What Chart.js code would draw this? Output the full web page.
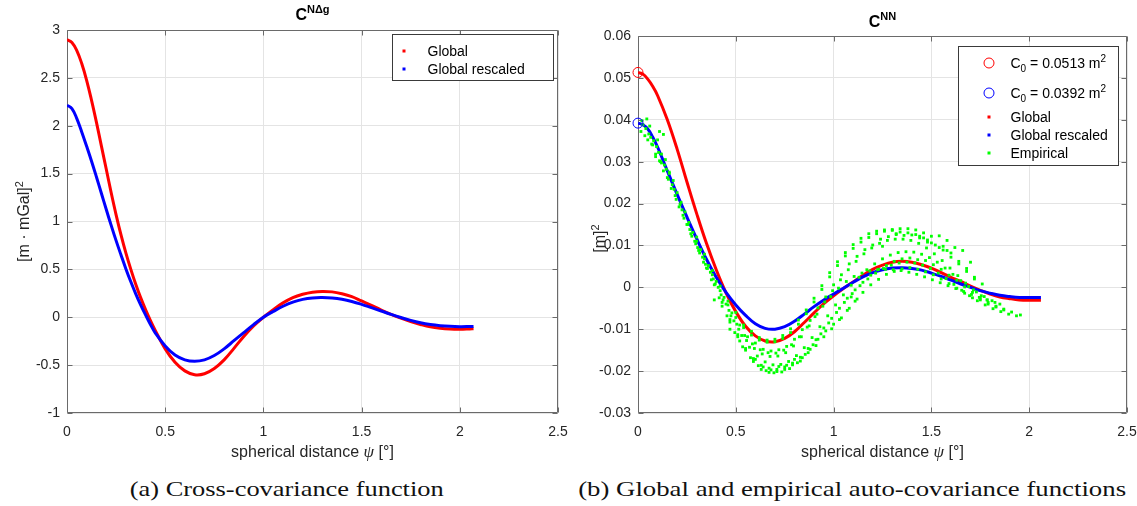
<!DOCTYPE html>
<html>
<head>
<meta charset="utf-8">
<script src="https://cdn.jsdelivr.net/npm/chart.js@4.4.1/dist/chart.umd.min.js"></script>
<style>
  html, body { margin: 0; padding: 0; background: #fff; width: 1137px; height: 506px; overflow: hidden; }
  .panel { position: absolute; top: 0; height: 470px; }
  #panelA { left: 0; width: 570px; }
  #panelB { left: 570px; width: 567px; }
  .caption { position: absolute; top: 476px; font-family: 'Liberation Serif', 'Times New Roman', serif;
             font-size: 22px; line-height: 26px; color: #111; white-space: nowrap; transform-origin: 50% 50%; }
</style>
</head>
<body>
<div class="panel" id="panelA"><canvas id="chartA"></canvas></div>
<div class="panel" id="panelB"><canvas id="chartB"></canvas></div>
<div class="caption" id="captionA">(a) Cross-covariance function</div>
<div class="caption" id="captionB">(b) Global and empirical auto-covariance functions</div>
<script>
// ---- spherical distance samples (degrees) ----
const psiA = [0, 0.025, 0.05, 0.075, 0.1, 0.125, 0.15, 0.175, 0.2, 0.225, 0.25, 0.275, 0.3, 0.325, 0.35, 0.375, 0.4, 0.425,
              0.45, 0.5, 0.55, 0.6, 0.65, 0.7, 0.75, 0.8, 0.85, 0.9, 0.95,
              1.0, 1.05, 1.1, 1.15, 1.2, 1.25, 1.3, 1.35, 1.4, 1.45, 1.5, 1.55, 1.6, 1.65, 1.7, 1.75, 1.8, 1.85, 1.9, 1.95,
              2.0, 2.05, 2.07];
// cross-covariance C^{NΔg}  [m·mGal]^2
const crossGlobal = [2.90, 2.87, 2.785, 2.65, 2.475, 2.265, 2.035, 1.79, 1.545, 1.30, 1.07, 0.86, 0.67, 0.50, 0.345, 0.205, 0.08, -0.035,
                     -0.14, -0.33, -0.47, -0.56, -0.60, -0.59, -0.535, -0.445, -0.325, -0.20, -0.09,
                     0.00, 0.08, 0.15, 0.205, 0.24, 0.262, 0.27, 0.265, 0.245, 0.215, 0.17, 0.125, 0.075, 0.03, -0.01, -0.045, -0.075, -0.10, -0.115, -0.123,
                     -0.125, -0.122, -0.12];
const crossRescaled = [2.215, 2.18, 2.075, 1.935, 1.785, 1.63, 1.465, 1.295, 1.125, 0.96, 0.80, 0.65, 0.505, 0.37, 0.245, 0.13, 0.025, -0.075,
                       -0.165, -0.30, -0.395, -0.445, -0.46, -0.445, -0.40, -0.33, -0.245, -0.16, -0.077,
                       0.00, 0.06, 0.115, 0.158, 0.187, 0.202, 0.205, 0.200, 0.187, 0.165, 0.135, 0.10, 0.065, 0.03, -0.003, -0.033, -0.058, -0.076, -0.088, -0.095,
                       -0.098, -0.097, -0.096];

const psiB = [0, 0.025, 0.05, 0.075, 0.1, 0.15, 0.2, 0.25, 0.3, 0.35, 0.4, 0.45, 0.5, 0.55, 0.6, 0.65, 0.7, 0.75, 0.8, 0.85, 0.9, 0.95,
              1.0, 1.05, 1.1, 1.15, 1.2, 1.25, 1.3, 1.35, 1.4, 1.45, 1.5, 1.55, 1.6, 1.65, 1.7, 1.75, 1.8, 1.85, 1.9, 1.95,
              2.0, 2.05, 2.06];
// auto-covariance C^{NN}  [m]^2
const autoGlobal = [0.0513, 0.0509, 0.0497, 0.0480, 0.0458, 0.0400, 0.0330, 0.0252, 0.0176, 0.0105, 0.0042, -0.0013, -0.0058, -0.0093, -0.0116, -0.0128, -0.0130, -0.0122, -0.0106, -0.0084, -0.0061, -0.0039,
                    -0.0020, -0.0003, 0.0013, 0.0029, 0.0043, 0.0053, 0.0060, 0.0062, 0.0060, 0.0054, 0.0046, 0.0035, 0.0024, 0.0014, 0.0003, -0.0007, -0.0016, -0.0023, -0.0027, -0.0030,
                    -0.0031, -0.0031, -0.0031];
const autoRescaled = [0.0392, 0.0388, 0.0378, 0.0359, 0.0335, 0.0278, 0.0222, 0.0168, 0.0116, 0.0067, 0.0024, -0.0012, -0.0042, -0.0067, -0.0087, -0.0098, -0.0100, -0.0094, -0.0081, -0.0064, -0.0046, -0.0030,
                      -0.0016, -0.0002, 0.0012, 0.0025, 0.0035, 0.0042, 0.0046, 0.0047, 0.0045, 0.0041, 0.0034, 0.0026, 0.0017, 0.0008, 0.0000, -0.0008, -0.0014, -0.0019, -0.0022, -0.0024,
                      -0.0024, -0.0024, -0.0024];
const c0Global = 0.0513;
const c0Rescaled = 0.0392;

// empirical auto-covariance estimates [psi, C]
const empiricalA = [[0.02,0.0398],[0.06,0.0385],[0.10,0.0352],[0.14,0.0305],[0.18,0.0255],[0.22,0.0203],[0.26,0.0155],[0.30,0.0110],[0.34,0.0068],[0.38,0.0030],
  [0.42,-0.0008],[0.46,-0.0042],[0.50,-0.0072],[0.54,-0.0096],[0.58,-0.0114],[0.62,-0.0126],[0.66,-0.0131],[0.70,-0.0130],[0.74,-0.0122],[0.78,-0.0108],
  [0.82,-0.0088],[0.86,-0.0063],[0.90,-0.0035],[0.94,-0.0005],[0.98,0.0025],[1.02,0.0052],[1.06,0.0075],[1.10,0.0093],[1.14,0.0108],[1.18,0.0119],
  [1.22,0.0128],[1.26,0.0134],[1.30,0.0138],[1.34,0.0140],[1.38,0.0140],[1.42,0.0137],[1.46,0.0130],[1.50,0.0122],[1.54,0.0123],[1.58,0.0112],[1.62,0.0095],[1.66,0.0088]];
const empiricalB = [[0.035,0.0362],[0.075,0.0340],[0.115,0.0300],[0.155,0.0258],[0.195,0.0210],[0.235,0.0165],[0.275,0.0122],[0.315,0.0082],[0.355,0.0045],[0.395,0.0008],
  [0.435,-0.0030],[0.475,-0.0068],[0.515,-0.0100],[0.555,-0.0127],[0.595,-0.0146],[0.635,-0.0159],[0.675,-0.0165],[0.715,-0.0164],[0.755,-0.0156],[0.795,-0.0140],
  [0.835,-0.0118],[0.875,-0.0092],[0.915,-0.0064],[0.955,-0.0035],[0.995,-0.0008],[1.035,0.0018],[1.075,0.0042],[1.115,0.0062],[1.155,0.0080],[1.195,0.0094],
  [1.235,0.0105],[1.275,0.0112],[1.315,0.0115],[1.355,0.0115],[1.395,0.0112],[1.435,0.0105],[1.475,0.0094],[1.515,0.0080],[1.555,0.0064],[1.595,0.0046],
  [1.635,0.0028],[1.675,0.0010],[1.715,-0.0006],[1.755,-0.0020],[1.785,-0.0030]];
const empiricalC = [[0.05,0.0352],[0.09,0.0318],[0.13,0.0278],[0.17,0.0236],[0.21,0.0192],[0.25,0.0150],[0.29,0.0110],[0.33,0.0072],[0.37,0.0036],[0.41,0.0000],
  [0.45,-0.0040],[0.49,-0.0080],[0.53,-0.0115],[0.57,-0.0143],[0.61,-0.0164],[0.65,-0.0178],[0.69,-0.0185],[0.73,-0.0184],[0.77,-0.0177],[0.81,-0.0163],
  [0.85,-0.0144],[0.89,-0.0120],[0.93,-0.0094],[0.97,-0.0068],[1.01,-0.0042],[1.05,-0.0018],[1.09,0.0005],[1.13,0.0024],[1.17,0.0042],[1.21,0.0056],
  [1.25,0.0068],[1.29,0.0077],[1.33,0.0083],[1.37,0.0085],[1.41,0.0084],[1.45,0.0079],[1.49,0.0071],[1.53,0.0060],[1.57,0.0046],[1.61,0.0031],
  [1.65,0.0016],[1.69,0.0002],[1.73,-0.0011],[1.77,-0.0022],[1.81,-0.0032],[1.85,-0.0040]];
const empiricalD = [[0.015,0.0372],[0.055,0.0366],[0.095,0.0336],[0.135,0.0292],[0.175,0.0245],[0.215,0.0198],[0.255,0.0150],[0.295,0.0104],[0.335,0.0060],[0.375,0.0018],
  [0.415,-0.0025],[0.455,-0.0068],[0.495,-0.0108],[0.535,-0.0142],[0.575,-0.0168],[0.615,-0.0187],[0.655,-0.0199],[0.695,-0.0204],[0.735,-0.0202],[0.775,-0.0194],
  [0.815,-0.0180],[0.855,-0.0160],[0.895,-0.0137],[0.935,-0.0111],[0.975,-0.0085],[1.015,-0.0060],[1.055,-0.0036],[1.095,-0.0015],[1.135,0.0004],[1.175,0.0020],
  [1.215,0.0034],[1.255,0.0045],[1.295,0.0053],[1.335,0.0058],[1.375,0.0060],[1.415,0.0058],[1.455,0.0053],[1.495,0.0045],[1.535,0.0034],[1.575,0.0021],
  [1.615,0.0007],[1.655,-0.0007],[1.695,-0.0020],[1.735,-0.0032],[1.775,-0.0042],[1.815,-0.0051],[1.855,-0.0058],[1.895,-0.0064],[1.935,-0.0068],[1.955,-0.0066]];
const empiricalE = [[0.025,0.0388],[0.065,0.0358],[0.105,0.0322],[0.145,0.0282],[0.185,0.0234],[0.225,0.0185],[0.265,0.0138],[0.305,0.0095],[0.345,0.0055],[0.385,0.0020],
  [0.425,-0.0018],[0.465,-0.0055],[0.505,-0.0088],[0.545,-0.0115],[0.585,-0.0135],[0.625,-0.0149],[0.665,-0.0156],[0.705,-0.0157],[0.745,-0.0150],[0.785,-0.0137],
  [0.825,-0.0118],[0.865,-0.0095],[0.905,-0.0070],[0.945,-0.0045],[0.985,-0.0022],[1.025,-0.0002],[1.065,0.0014],[1.105,0.0026],[1.145,0.0034],[1.185,0.0039],
  [1.225,0.0042],[1.265,0.0043],[1.305,0.0042],[1.345,0.0040],[1.385,0.0036],[1.425,0.0031],[1.465,0.0025],[1.505,0.0018],[1.545,0.0011],[1.585,0.0004],
  [1.625,-0.0003],[1.665,-0.0010],[1.705,-0.0017],[1.745,-0.0024],[1.785,-0.0030],[1.825,-0.0036]];
const empiricalF = [[0.045,0.0402],[0.11,0.0372],[0.13,0.0365],[0.09,0.0312],[0.12,0.0297],[0.16,0.0275],[0.39,-0.0030],[0.47,-0.0100],[0.52,-0.0128],[0.60,-0.0172],
  [0.64,-0.0190],[0.68,-0.0197],[0.72,-0.0189],[0.76,-0.0186],[0.80,-0.0172],[0.84,-0.0168],[0.88,-0.0148],[0.92,-0.0124],[0.96,-0.0104],[1.00,-0.0088],
  [1.04,-0.0073],[1.08,-0.0050],[1.12,-0.0028],[1.09,-0.0023],[1.25,0.0098],[1.32,0.0128],[1.44,0.0122],[1.48,0.0108],[1.56,0.0098],[1.60,0.0082],
  [1.64,0.0062],[1.68,0.0045],[1.72,0.0020],[1.76,0.0008],[1.70,0.0060]];
const empiricalG = [[0.04,0.0379],[0.08,0.0350],[0.12,0.0318],[0.16,0.0272],[0.20,0.0226],[0.24,0.0180],[0.28,0.0131],[0.32,0.0090],[0.36,0.0052],[0.40,0.0014],
  [0.44,-0.0024],[0.48,-0.0061],[0.52,-0.0090],[0.56,-0.0118],[0.60,-0.0133],[0.64,-0.0148],[0.68,-0.0152],[0.72,-0.0149],[0.76,-0.0141],[0.80,-0.0124],
  [0.84,-0.0101],[0.88,-0.0079],[0.92,-0.0049],[0.96,-0.0023],[1.00,0.0006],[1.04,0.0030],[1.08,0.0056],[1.12,0.0074],[1.16,0.0090],[1.20,0.0101],
  [1.24,0.0115],[1.28,0.0121],[1.32,0.0126],[1.36,0.0124],[1.40,0.0125],[1.44,0.0118],[1.48,0.0113],[1.52,0.0101],[1.56,0.0089],[1.60,0.0072],
  [1.64,0.0056],[1.68,0.0038],[1.72,0.0024]];
const empiricalH = [[0.07,0.0342],[0.11,0.0302],[0.15,0.0262],[0.19,0.0219],[0.23,0.0172],[0.27,0.0128],[0.31,0.0088],[0.35,0.0046],[0.39,0.0006],[0.43,-0.0036],
  [0.47,-0.0077],[0.51,-0.0113],[0.55,-0.0146],[0.59,-0.0170],[0.63,-0.0186],[0.67,-0.0193],[0.71,-0.0196],[0.75,-0.0190],[0.79,-0.0181],[0.83,-0.0167],
  [0.87,-0.0146],[0.91,-0.0125],[0.95,-0.0097],[0.99,-0.0074],[1.03,-0.0050],[1.07,-0.0026],[1.11,-0.0006],[1.15,0.0012],[1.19,0.0029],[1.23,0.0043],
  [1.27,0.0052],[1.31,0.0062],[1.35,0.0068],[1.39,0.0070],[1.43,0.0066],[1.47,0.0064],[1.51,0.0054],[1.55,0.0043],[1.59,0.0029],[1.63,0.0017],
  [1.67,0.0001],[1.71,-0.0012],[1.75,-0.0026],[1.79,-0.0036],[1.83,-0.0045],[1.87,-0.0052],[1.91,-0.0059]];
const empiricalI = [[0.30,0.0120],[0.34,0.0079],[0.38,0.0040],[0.42,0.0003],[0.46,-0.0033],[0.50,-0.0060],[0.54,-0.0090],[0.58,-0.0105],[0.62,-0.0120],[0.66,-0.0126],
  [0.70,-0.0124],[0.74,-0.0115],[0.78,-0.0099],[0.82,-0.0078],[0.86,-0.0054],[0.90,-0.0026],[0.94,0.0004],[0.98,0.0035],[1.02,0.0061],[1.06,0.0083],
  [1.10,0.0102],[1.14,0.0117],[1.18,0.0128],[1.22,0.0134],[1.26,0.0137],[1.30,0.0136],[1.34,0.0132],[1.38,0.0130],[1.42,0.0126],[1.46,0.0118],
  [1.50,0.0106],[1.54,0.0095],[1.58,0.0088]];
const empiricalJ = [[0.43,-0.0045],[0.47,-0.0083],[0.51,-0.0118],[0.55,-0.0150],[0.59,-0.0177],[0.63,-0.0196],[0.67,-0.0203],[0.71,-0.0201],[0.75,-0.0196],[0.79,-0.0185],
  [0.83,-0.0176],[0.87,-0.0156],[0.91,-0.0139],[0.95,-0.0118],[0.99,-0.0099],[1.03,-0.0077],[1.07,-0.0055],[1.11,-0.0033],[1.15,-0.0012],[1.19,0.0006],
  [1.23,0.0019],[1.27,0.0031],[1.31,0.0038],[1.35,0.0044],[1.39,0.0047],[1.43,0.0043],[1.47,0.0037],[1.51,0.0030],[1.55,0.0020],[1.59,0.0009],
  [1.63,-0.0002],[1.67,-0.0014],[1.71,-0.0025],[1.75,-0.0030],[1.79,-0.0040],[1.83,-0.0047],[1.87,-0.0054]];

// ---- axis ticks ----
const xTicks = [0, 0.5, 1, 1.5, 2, 2.5];
const xTickLabels = ['0', '0.5', '1', '1.5', '2', '2.5'];
const yTicksA = [-1, -0.5, 0, 0.5, 1, 1.5, 2, 2.5, 3];
const yTickLabelsA = ['-1', '-0.5', '0', '0.5', '1', '1.5', '2', '2.5', '3'];
const yTicksB = [-0.03, -0.02, -0.01, 0, 0.01, 0.02, 0.03, 0.04, 0.05, 0.06];
const yTickLabelsB = ['-0.03', '-0.02', '-0.01', '0', '0.01', '0.02', '0.03', '0.04', '0.05', '0.06'];

// ---- styling ----
const SANS = "'Liberation Sans', Arial, Helvetica, sans-serif";
const SERIF = "'Liberation Serif', 'Times New Roman', serif";
const RED = '#ff0000', BLUE = '#0000ff', GREEN = '#00ff00';
const AXIS_COLOR = '#6a6a6a', GRID_COLOR = '#e4e4e4', TEXT_COLOR = '#262626';

function pts(xs, ys) { return xs.map((x, i) => ({ x: x, y: ys[i] })); }
function pairPts(list) { return list.map(p => ({ x: p[0], y: p[1] })); }

// draws a sequence of text runs (font / vertical shift) on one baseline
function runsWidth(ctx, runs) {
  let w = 0;
  runs.forEach(r => { ctx.font = r.font; w += ctx.measureText(r.text).width; });
  return w;
}
function drawRuns(ctx, runs, x, y, align) {
  const w = runsWidth(ctx, runs);
  let cx = align === 'center' ? x - w / 2 : x;
  ctx.textAlign = 'left';
  ctx.textBaseline = 'alphabetic';
  runs.forEach(r => {
    ctx.font = r.font;
    ctx.fillText(r.text, cx, y + (r.dy || 0));
    cx += ctx.measureText(r.text).width;
  });
}

const xTitleRuns = [
  { text: 'spherical distance ', font: '16px ' + SANS },
  { text: 'ψ', font: 'italic 17px ' + SERIF },
  { text: ' [°]', font: '16px ' + SANS }
];
const LEG = '14px ' + SANS, SUB = '10px ' + SANS;

// panel decorations: titles, axis labels, legends
const decor = {
  chartA: {
    title: [{ text: 'C', font: 'bold 16px ' + SANS }, { text: 'NΔg', font: 'bold 11px ' + SANS, dy: -7 }],
    titleGap: 10,
    yTitle: [{ text: '[m · mGal]', font: '16px ' + SANS }, { text: '2', font: '11px ' + SANS, dy: -6 }],
    yTitleX: 29, yTitleShift: 0,
    legend: { width: 161, height: 46, insetRight: 5, insetTop: 4, symbolX: 11, textX: 35,
      rows: [
        { dy: 16, kind: 'dot', color: RED, runs: [{ text: 'Global', font: LEG }] },
        { dy: 34, kind: 'dot', color: BLUE, runs: [{ text: 'Global rescaled', font: LEG }] }
      ] }
  },
  chartB: {
    title: [{ text: 'C', font: 'bold 16px ' + SANS }, { text: 'NN', font: 'bold 11px ' + SANS, dy: -7 }],
    titleGap: 9,
    yTitle: [{ text: '[m]', font: '16px ' + SANS }, { text: '2', font: '11px ' + SANS, dy: -6 }],
    yTitleX: 35, yTitleShift: 14,
    legend: { width: 160, height: 119, insetRight: 9, insetTop: 10, symbolX: 30, textX: 52,
      rows: [
        { dy: 16, kind: 'circle', color: RED, runs: [
          { text: 'C', font: LEG }, { text: '0', font: SUB, dy: 4 },
          { text: ' = 0.0513 m', font: LEG }, { text: '2', font: SUB, dy: -6 }] },
        { dy: 46, kind: 'circle', color: BLUE, runs: [
          { text: 'C', font: LEG }, { text: '0', font: SUB, dy: 4 },
          { text: ' = 0.0392 m', font: LEG }, { text: '2', font: SUB, dy: -6 }] },
        { dy: 70, kind: 'dot', color: RED, runs: [{ text: 'Global', font: LEG }] },
        { dy: 88, kind: 'dot', color: BLUE, runs: [{ text: 'Global rescaled', font: LEG }] },
        { dy: 106, kind: 'dot', color: GREEN, runs: [{ text: 'Empirical', font: LEG }] }
      ] }
  }
};

const matlabAxes = {
  id: 'matlabAxes',
  beforeDatasetsDraw(chart) {
    const ctx = chart.ctx, a = chart.chartArea, xs = chart.scales.x, ys = chart.scales.y;
    const L = Math.round(a.left) + 0.5, R = Math.round(a.right) - 0.5;
    const T = Math.round(a.top) + 0.5, B = Math.round(a.bottom) - 0.5;
    ctx.save();
    ctx.strokeStyle = AXIS_COLOR;
    ctx.lineWidth = 1;
    ctx.beginPath();
    ctx.rect(L, T, R - L, B - T);
    xs.ticks.forEach(t => {
      const px = Math.round(xs.getPixelForValue(t.value)) + 0.5;
      ctx.moveTo(px, B); ctx.lineTo(px, B - 5);
      ctx.moveTo(px, T); ctx.lineTo(px, T + 5);
    });
    ys.ticks.forEach(t => {
      const py = Math.round(ys.getPixelForValue(t.value)) + 0.5;
      ctx.moveTo(L, py); ctx.lineTo(L + 5, py);
      ctx.moveTo(R, py); ctx.lineTo(R - 5, py);
    });
    ctx.stroke();
    ctx.restore();
  },
  afterDraw(chart) {
    const d = decor[chart.canvas.id];
    const ctx = chart.ctx, a = chart.chartArea;
    const cx = (a.left + a.right) / 2, cy = (a.top + a.bottom) / 2;
    ctx.save();
    ctx.fillStyle = '#000';
    drawRuns(ctx, d.title, cx, a.top - d.titleGap, 'center');
    ctx.fillStyle = TEXT_COLOR;
    drawRuns(ctx, xTitleRuns, cx, 457, 'center');
    ctx.save();
    ctx.translate(d.yTitleX, cy + d.yTitleShift);
    ctx.rotate(-Math.PI / 2);
    drawRuns(ctx, d.yTitle, 0, 0, 'center');
    ctx.restore();

    // legend box inside the upper right corner of the axes
    const lg = d.legend;
    const left = Math.round(a.right - lg.insetRight - lg.width) + 0.5;
    const top = Math.round(a.top + lg.insetTop) + 0.5;
    ctx.fillStyle = '#fff';
    ctx.fillRect(left, top, lg.width, lg.height);
    ctx.strokeStyle = '#3a3a3a';
    ctx.lineWidth = 1;
    ctx.strokeRect(left, top, lg.width, lg.height);
    lg.rows.forEach(r => {
      const ry = Math.round(top + r.dy);
      const sx = Math.round(left + lg.symbolX);
      if (r.kind === 'circle') {
        ctx.strokeStyle = r.color;
        ctx.lineWidth = 1;
        ctx.beginPath();
        ctx.arc(sx, ry, 5, 0, Math.PI * 2);
        ctx.stroke();
      } else {
        ctx.fillStyle = r.color;
        ctx.fillRect(sx - 1.5, ry - 1.5, 3, 3);
      }
      ctx.fillStyle = '#000';
      drawRuns(ctx, r.runs, left + lg.textX, ry + 5, 'left');
    });
    ctx.restore();
  }
};

function makeOptions(cfg) {
  return {
    responsive: true,
    maintainAspectRatio: false,
    animation: false,
    events: [],
    layout: { padding: { top: cfg.top, right: cfg.right, left: 0, bottom: 0 } },
    plugins: { legend: { display: false }, tooltip: { enabled: false }, title: { display: false } },
    scales: {
      x: {
        type: 'linear', min: 0, max: 2.5,
        grid: { color: GRID_COLOR, lineWidth: 1, drawTicks: false },
        border: { display: false },
        afterBuildTicks: s => { s.ticks = xTicks.map(v => ({ value: v })); },
        ticks: { color: TEXT_COLOR, font: { family: SANS, size: 14 }, padding: 11, maxRotation: 0, autoSkip: false,
                 callback: (v, i) => xTickLabels[i] },
        afterFit: s => { s.height = cfg.xHeight; s.paddingLeft = 0; s.paddingRight = 0; }
      },
      y: {
        type: 'linear', min: cfg.yMin, max: cfg.yMax,
        grid: { color: GRID_COLOR, lineWidth: 1, drawTicks: false },
        border: { display: false },
        afterBuildTicks: s => { s.ticks = cfg.yTicks.map(v => ({ value: v })); },
        ticks: { color: TEXT_COLOR, font: { family: SANS, size: 14 }, padding: 7, autoSkip: false,
                 callback: (v, i) => cfg.yLabels[i] },
        afterFit: s => { s.width = cfg.yWidth; s.paddingTop = 0; s.paddingBottom = 0; }
      }
    }
  };
}

function curve(label, data, color, order) {
  return { label: label, data: data, borderColor: color, backgroundColor: color, borderWidth: 3,
           pointRadius: 0, tension: 0.4, fill: false, order: order };
}

new Chart(document.getElementById('chartA'), {
  type: 'line',
  data: {
    datasets: [
      curve('Global rescaled', pts(psiA, crossRescaled), BLUE, 1),
      curve('Global', pts(psiA, crossGlobal), RED, 2)
    ]
  },
  options: makeOptions({ top: 30, right: 12, xHeight: 57, yWidth: 67, yMin: -1, yMax: 3,
                         yTicks: yTicksA, yLabels: yTickLabelsA }),
  plugins: [matlabAxes]
});

const empiricalAll = [].concat(empiricalA, empiricalB, empiricalC, empiricalD, empiricalE,
                               empiricalF, empiricalG, empiricalH, empiricalI, empiricalJ);

new Chart(document.getElementById('chartB'), {
  type: 'line',
  data: {
    datasets: [
      { label: 'C0 global', data: [{ x: 0, y: c0Global }], showLine: false, pointStyle: 'circle', pointRadius: 5,
        pointBorderColor: RED, pointBackgroundColor: 'rgba(0,0,0,0)', pointBorderWidth: 1, clip: false, order: 0 },
      { label: 'C0 rescaled', data: [{ x: 0, y: c0Rescaled }], showLine: false, pointStyle: 'circle', pointRadius: 5,
        pointBorderColor: BLUE, pointBackgroundColor: 'rgba(0,0,0,0)', pointBorderWidth: 1, clip: false, order: 0 },
      { label: 'Empirical', data: pairPts(empiricalAll), showLine: false, pointStyle: 'rect', pointRadius: 2,
        pointBackgroundColor: GREEN, pointBorderWidth: 0, pointBorderColor: GREEN, order: 1 },
      curve('Global rescaled', pts(psiB, autoRescaled), BLUE, 2),
      curve('Global', pts(psiB, autoGlobal), RED, 3)
    ]
  },
  options: makeOptions({ top: 36, right: 10, xHeight: 57, yWidth: 68, yMin: -0.03, yMax: 0.06,
                         yTicks: yTicksB, yLabels: yTickLabelsB }),
  plugins: [matlabAxes]
});

// stretch captions to the column width they span
function placeCaption(id, center, width) {
  const el = document.getElementById(id);
  const w = el.getBoundingClientRect().width;
  el.style.left = (center - w / 2) + 'px';
  el.style.transform = 'scaleX(' + (width / w).toFixed(3) + ')';
}
placeCaption('captionA', 287, 314);
placeCaption('captionB', 852, 548);
</script>
</body>
</html>
